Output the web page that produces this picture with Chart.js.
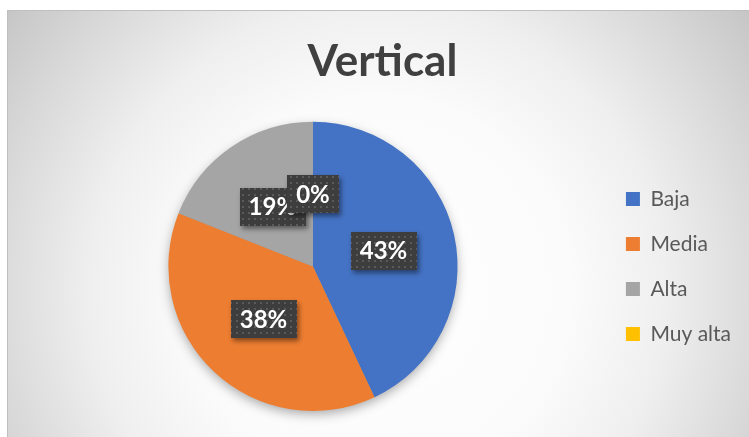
<!DOCTYPE html>
<html>
<head>
<meta charset="utf-8">
<script src="https://cdn.jsdelivr.net/npm/chart.js@4"></script>
<style>
  html, body { margin: 0; padding: 0; background: #ffffff; }
  canvas { display: block; }
</style>
</head>
<body>
<canvas id="vertical" width="749" height="437"></canvas>
<script>
"use strict";

var categorias = ["Baja", "Media", "Alta", "Muy alta"];
var porcentajes = [43, 38, 19, 0];
var colores = ["#4472C4", "#ED7D31", "#A5A5A5", "#FFC000"];
var titulo = "Vertical";

// fondo con degradado radial y borde
var fondoPlugin = {
  id: "fondo",
  beforeDraw: function (chart) {
    var ctx = chart.ctx;
    ctx.save();
    ctx.fillStyle = "#ffffff";
    ctx.fillRect(0, 0, chart.width, chart.height);
    var g = ctx.createRadialGradient(378, 290, 0, 378, 290, 480);
    g.addColorStop(0, "#ffffff");
    g.addColorStop(0.4, "#fbfbfb");
    g.addColorStop(0.6, "#efefef");
    g.addColorStop(0.8, "#d9d9d9");
    g.addColorStop(1, "#c2c2c2");
    ctx.fillStyle = g;
    ctx.fillRect(7, 10, chart.width - 7, chart.height - 10);
    ctx.strokeStyle = "#bfbfbf";
    ctx.lineWidth = 1;
    ctx.strokeRect(7.5, 10.5, chart.width, chart.height);
    ctx.restore();
  },
  // sombra suave bajo el pastel
  beforeDatasetsDraw: function (chart) {
    var arc = chart.getDatasetMeta(0).data[0];
    if (!arc) return;
    var ctx = chart.ctx;
    ctx.save();
    ctx.shadowColor = "rgba(0,0,0,0.35)";
    ctx.shadowBlur = 12;
    ctx.shadowOffsetY = 4;
    ctx.fillStyle = "#999999";
    ctx.beginPath();
    ctx.arc(arc.x, arc.y, arc.outerRadius - 1, 0, Math.PI * 2);
    ctx.fill();
    ctx.restore();
  },
};

// etiquetas de porcentaje con caja oscura punteada
function patronOscuro() {
  var c = document.createElement("canvas");
  c.width = 6;
  c.height = 6;
  var p = c.getContext("2d");
  p.fillStyle = "#3d3d3d";
  p.fillRect(0, 0, 6, 6);
  p.fillStyle = "#5a5a5a";
  p.fillRect(2, 2, 2, 2);
  return c;
}

var etiquetasPlugin = {
  id: "etiquetas",
  afterDatasetsDraw: function (chart) {
    var ctx = chart.ctx;
    var meta = chart.getDatasetMeta(0);
    var datos = chart.data.datasets[0].data;
    var total = datos.reduce(function (a, b) { return a + b; }, 0);
    var patron = ctx.createPattern(patronOscuro(), "repeat");
    ctx.save();
    ctx.font = "bold 24px Lato";
    ctx.textAlign = "center";
    ctx.textBaseline = "middle";
    meta.data.forEach(function (arc, i) {
      var p = arc.getProps(["x", "y", "startAngle", "endAngle", "outerRadius"], true);
      var medio = (p.startAngle + p.endAngle) / 2;
      var cx = p.x + Math.cos(medio) * p.outerRadius * 0.5;
      var cy = p.y + Math.sin(medio) * p.outerRadius * 0.5;
      var texto = Math.round((datos[i] / total) * 100) + "%";
      var w = ctx.measureText(texto).width + 18;
      var h = 38;
      ctx.save();
      ctx.shadowColor = "rgba(0,0,0,0.45)";
      ctx.shadowBlur = 5;
      ctx.shadowOffsetX = 2;
      ctx.shadowOffsetY = 3;
      ctx.fillStyle = patron;
      ctx.fillRect(Math.round(cx - w / 2), Math.round(cy - h / 2), Math.round(w), h);
      ctx.restore();
      ctx.fillStyle = "#ffffff";
      ctx.fillText(texto, cx, cy + 1);
    });
    ctx.restore();
  },
};

var lienzo = document.getElementById("vertical").getContext("2d");

var graficoVertical = new Chart(lienzo, {
  type: "pie",
  data: {
    labels: categorias,
    datasets: [
      {
        label: titulo,
        data: porcentajes,
        backgroundColor: colores,
        borderWidth: 0,
      },
    ],
  },
  options: {
    responsive: false,
    animation: false,
    devicePixelRatio: 1,
    events: [],
    layout: {
      padding: { top: 10, left: 24, right: 8, bottom: 26 },
    },
    plugins: {
      title: {
        display: true,
        text: titulo,
        color: "#404040",
        font: { family: "Lato", size: 44, weight: "bold" },
        padding: { top: 25, bottom: 34 },
      },
      legend: {
        position: "right",
        fullSize: false,
        labels: {
          color: "#595959",
          font: { family: "Lato", size: 21 },
          boxWidth: 14,
          boxHeight: 14,
          padding: 24,
        },
      },
      tooltip: { enabled: false },
    },
  },
  plugins: [fondoPlugin, etiquetasPlugin],
});
</script>
</body>
</html>
